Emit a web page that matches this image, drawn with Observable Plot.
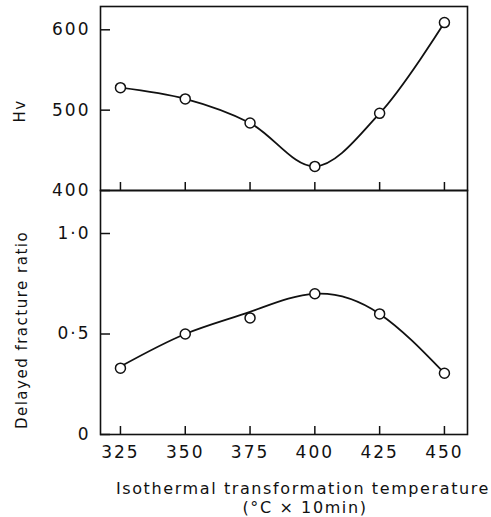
<!DOCTYPE html>
<html><head><meta charset="utf-8">
<script src="https://cdn.jsdelivr.net/npm/d3@7"></script>
<script src="https://cdn.jsdelivr.net/npm/@observablehq/plot@0.6"></script>
<style>
body{margin:0;background:#fff;}
#c{position:relative;width:491px;height:517px;overflow:hidden;font-family:"DejaVu Sans",sans-serif;color:#111;}
#c svg{position:absolute;left:0;}
.lab{position:absolute;white-space:nowrap;transform:translate(-50%,-50%);font-size:16px;letter-spacing:1.6px;}
.rot{transform:translate(-50%,-50%) rotate(-90deg);font-size:15px;letter-spacing:1.5px;}
</style>
</head><body><div id="c"></div>
<script>
const temps = [325, 350, 375, 400, 425, 450];
const hv = [528, 514, 484, 430, 496, 609];
const ratio = [0.33, 0.50, 0.58, 0.70, 0.60, 0.305];
const ratioCurve = [0.338, 0.50, 0.61, 0.70, 0.60, 0.305];
const hvTicks = [400, 500, 600];
const ratioTicks = [0, 0.5, 1.0];
const ratioTickLabels = ["0", "0·5", "1·0"];
const xLabel = "Isothermal transformation temperature";
const xSubLabel = "(°C × 10min)";
const hvLabel = "Hv";
const ratioLabel = "Delayed fracture ratio";

const hvData = temps.map((t, i) => ({t, v: hv[i]}));
const ratioData = temps.map((t, i) => ({t, v: ratio[i]}));
const ratioCurveData = temps.map((t, i) => ({t, v: ratioCurve[i]}));

const W = 491, ML = 100, MR = 24;
const plotW = W - ML - MR;
const xDomain = [317.3, 458.9];
const plotStyle = {background: "transparent", fontFamily: "DejaVu Sans", fontSize: "17px", color: "#111", letterSpacing: "2px"};
const tickLen = 10, xTickLen = 8;

const topH = 184; // plot area height of the Hv panel
const topPlot = Plot.plot({
  width: W, height: 6 + topH + 12,
  marginLeft: ML, marginRight: MR, marginTop: 6, marginBottom: 12,
  x: {domain: xDomain, axis: null},
  y: {domain: [400, 629], axis: null},
  style: plotStyle,
  marks: [
    Plot.axisY({ticks: hvTicks, tickSize: 0, tickPadding: 10, label: null}),
    Plot.tickY(hvTicks, {y: d => d, insetRight: plotW - tickLen, stroke: "#111", strokeWidth: 1.5}),
    Plot.tickX(temps, {x: d => d, insetTop: topH - xTickLen, stroke: "#111", strokeWidth: 1.5}),
    Plot.frame({stroke: "#111", strokeWidth: 1.6}),
    Plot.line(hvData, {x: "t", y: "v", curve: "catmull-rom", stroke: "#111", strokeWidth: 1.8}),
    Plot.dot(hvData, {x: "t", y: "v", r: 5, fill: "white", stroke: "#111", strokeWidth: 1.5})
  ]
});
topPlot.style.top = "0px";

const botH = 244;
const bottomPlot = Plot.plot({
  width: W, height: 5 + botH + 32,
  marginLeft: ML, marginRight: MR, marginTop: 5, marginBottom: 32,
  x: {domain: xDomain, axis: null},
  y: {domain: [0, 1.214], axis: null},
  style: plotStyle,
  marks: [
    Plot.axisX({ticks: temps, tickSize: 0, tickPadding: 11, label: null}),
    Plot.axisY({ticks: ratioTicks, tickSize: 0, tickPadding: 10, label: null,
      tickFormat: d => ratioTickLabels[ratioTicks.indexOf(d)]}),
    Plot.tickY(ratioTicks, {y: d => d, insetRight: plotW - tickLen, stroke: "#111", strokeWidth: 1.5}),
    Plot.tickX(temps, {x: d => d, insetTop: botH - xTickLen, stroke: "#111", strokeWidth: 1.5}),
    Plot.frame({stroke: "#111", strokeWidth: 1.6}),
    Plot.line(ratioCurveData, {x: "t", y: "v", curve: "natural", stroke: "#111", strokeWidth: 1.8}),
    Plot.dot(ratioData, {x: "t", y: "v", r: 5, fill: "white", stroke: "#111", strokeWidth: 1.5})
  ]
});
bottomPlot.style.top = "185px";

const c = document.getElementById("c");
c.appendChild(topPlot);
c.appendChild(bottomPlot);

function addLabel(text, x, y, cls) {
  const d = document.createElement("div");
  d.className = "lab" + (cls ? " " + cls : "");
  d.textContent = text;
  d.style.left = x + "px";
  d.style.top = y + "px";
  c.appendChild(d);
}
addLabel(hvLabel, 20, 111, "rot");
addLabel(ratioLabel, 22, 330, "rot");
addLabel(xLabel, 303, 488);
addLabel(xSubLabel, 305, 507);
</script>
</body></html>
